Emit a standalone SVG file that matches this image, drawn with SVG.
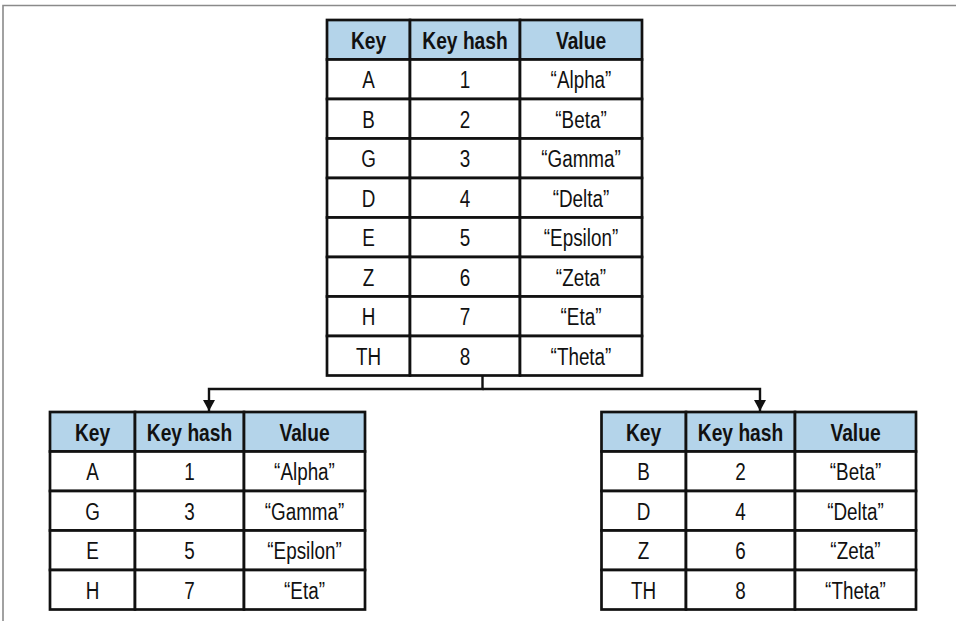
<svg xmlns="http://www.w3.org/2000/svg" width="956" height="621" viewBox="0 0 956 621">
  <defs>
    <style>
      .cell { fill: #ffffff; stroke: #111111; stroke-width: 2.7; }
      .head { fill: #b4d4ea; stroke: #111111; stroke-width: 2.7; }
      .t { font-family: "Liberation Sans", Arial, sans-serif; font-size: 23px; fill: #111111; text-anchor: middle; }
      .h { font-weight: bold; font-size: 24px; }
      .wire { fill: none; stroke: #111111; stroke-width: 2.4; }
      .frame { fill: none; stroke: #8a8a8a; stroke-width: 1.6; }
    </style>
    <marker id="arrow" viewBox="0 0 11 12" refX="11" refY="6" markerWidth="11" markerHeight="12" markerUnits="userSpaceOnUse" orient="auto">
      <path d="M0,0 L11,6 L0,12 Z" fill="#111111"/>
    </marker>
  </defs>

  <rect width="956" height="621" fill="#ffffff"/>
  <!-- page frame -->
  <path class="frame" d="M3,621 V5.5 H956"/>

  <!-- source table: all keys -->
  <g id="table-all">
    <rect class="head" x="327" y="20" width="83" height="39.5"/>
    <rect class="head" x="410" y="20" width="110" height="39.5"/>
    <rect class="head" x="520" y="20" width="122" height="39.5"/>
    <text class="t h" transform="translate(368.5,48.5) scale(0.8,1)">Key</text>
    <text class="t h" transform="translate(465,48.5) scale(0.8,1)">Key hash</text>
    <text class="t h" transform="translate(581,48.5) scale(0.8,1)">Value</text>

    <rect class="cell" x="327" y="59.5" width="83" height="39.5"/>
    <rect class="cell" x="410" y="59.5" width="110" height="39.5"/>
    <rect class="cell" x="520" y="59.5" width="122" height="39.5"/>
    <rect class="cell" x="327" y="99" width="83" height="39.5"/>
    <rect class="cell" x="410" y="99" width="110" height="39.5"/>
    <rect class="cell" x="520" y="99" width="122" height="39.5"/>
    <rect class="cell" x="327" y="138.5" width="83" height="39.5"/>
    <rect class="cell" x="410" y="138.5" width="110" height="39.5"/>
    <rect class="cell" x="520" y="138.5" width="122" height="39.5"/>
    <rect class="cell" x="327" y="178" width="83" height="39.5"/>
    <rect class="cell" x="410" y="178" width="110" height="39.5"/>
    <rect class="cell" x="520" y="178" width="122" height="39.5"/>
    <rect class="cell" x="327" y="217.5" width="83" height="39.5"/>
    <rect class="cell" x="410" y="217.5" width="110" height="39.5"/>
    <rect class="cell" x="520" y="217.5" width="122" height="39.5"/>
    <rect class="cell" x="327" y="257" width="83" height="39.5"/>
    <rect class="cell" x="410" y="257" width="110" height="39.5"/>
    <rect class="cell" x="520" y="257" width="122" height="39.5"/>
    <rect class="cell" x="327" y="296.5" width="83" height="39.5"/>
    <rect class="cell" x="410" y="296.5" width="110" height="39.5"/>
    <rect class="cell" x="520" y="296.5" width="122" height="39.5"/>
    <rect class="cell" x="327" y="336" width="83" height="39.5"/>
    <rect class="cell" x="410" y="336" width="110" height="39.5"/>
    <rect class="cell" x="520" y="336" width="122" height="39.5"/>

    <text class="t" transform="translate(368.5,88) scale(0.82,1)">A</text>
    <text class="t" transform="translate(465,88) scale(0.82,1)">1</text>
    <text class="t" transform="translate(581,88) scale(0.82,1)">“Alpha”</text>
    <text class="t" transform="translate(368.5,127.5) scale(0.82,1)">B</text>
    <text class="t" transform="translate(465,127.5) scale(0.82,1)">2</text>
    <text class="t" transform="translate(581,127.5) scale(0.82,1)">“Beta”</text>
    <text class="t" transform="translate(368.5,167) scale(0.82,1)">G</text>
    <text class="t" transform="translate(465,167) scale(0.82,1)">3</text>
    <text class="t" transform="translate(581,167) scale(0.82,1)">“Gamma”</text>
    <text class="t" transform="translate(368.5,206.5) scale(0.82,1)">D</text>
    <text class="t" transform="translate(465,206.5) scale(0.82,1)">4</text>
    <text class="t" transform="translate(581,206.5) scale(0.82,1)">“Delta”</text>
    <text class="t" transform="translate(368.5,246) scale(0.82,1)">E</text>
    <text class="t" transform="translate(465,246) scale(0.82,1)">5</text>
    <text class="t" transform="translate(581,246) scale(0.82,1)">“Epsilon”</text>
    <text class="t" transform="translate(368.5,285.5) scale(0.82,1)">Z</text>
    <text class="t" transform="translate(465,285.5) scale(0.82,1)">6</text>
    <text class="t" transform="translate(581,285.5) scale(0.82,1)">“Zeta”</text>
    <text class="t" transform="translate(368.5,325) scale(0.82,1)">H</text>
    <text class="t" transform="translate(465,325) scale(0.82,1)">7</text>
    <text class="t" transform="translate(581,325) scale(0.82,1)">“Eta”</text>
    <text class="t" transform="translate(368.5,364.5) scale(0.82,1)">TH</text>
    <text class="t" transform="translate(465,364.5) scale(0.82,1)">8</text>
    <text class="t" transform="translate(581,364.5) scale(0.82,1)">“Theta”</text>
  </g>

  <!-- split connectors -->
  <g id="connectors">
    <path class="wire" d="M482.5,375.5 V389 H209 V411" marker-end="url(#arrow)"/>
    <path class="wire" d="M482.5,389 H760 V411" marker-end="url(#arrow)"/>
  </g>

  <!-- odd hashes -->
  <g id="table-odd">
    <rect class="head" x="50" y="412" width="85" height="39.5"/>
    <rect class="head" x="135" y="412" width="109" height="39.5"/>
    <rect class="head" x="244" y="412" width="121" height="39.5"/>
    <text class="t h" transform="translate(92.5,440.5) scale(0.8,1)">Key</text>
    <text class="t h" transform="translate(189.5,440.5) scale(0.8,1)">Key hash</text>
    <text class="t h" transform="translate(304.5,440.5) scale(0.8,1)">Value</text>

    <rect class="cell" x="50" y="451.5" width="85" height="39.5"/>
    <rect class="cell" x="135" y="451.5" width="109" height="39.5"/>
    <rect class="cell" x="244" y="451.5" width="121" height="39.5"/>
    <rect class="cell" x="50" y="491" width="85" height="39.5"/>
    <rect class="cell" x="135" y="491" width="109" height="39.5"/>
    <rect class="cell" x="244" y="491" width="121" height="39.5"/>
    <rect class="cell" x="50" y="530.5" width="85" height="39.5"/>
    <rect class="cell" x="135" y="530.5" width="109" height="39.5"/>
    <rect class="cell" x="244" y="530.5" width="121" height="39.5"/>
    <rect class="cell" x="50" y="570" width="85" height="39.5"/>
    <rect class="cell" x="135" y="570" width="109" height="39.5"/>
    <rect class="cell" x="244" y="570" width="121" height="39.5"/>

    <text class="t" transform="translate(92.5,480) scale(0.82,1)">A</text>
    <text class="t" transform="translate(189.5,480) scale(0.82,1)">1</text>
    <text class="t" transform="translate(304.5,480) scale(0.82,1)">“Alpha”</text>
    <text class="t" transform="translate(92.5,519.5) scale(0.82,1)">G</text>
    <text class="t" transform="translate(189.5,519.5) scale(0.82,1)">3</text>
    <text class="t" transform="translate(304.5,519.5) scale(0.82,1)">“Gamma”</text>
    <text class="t" transform="translate(92.5,559) scale(0.82,1)">E</text>
    <text class="t" transform="translate(189.5,559) scale(0.82,1)">5</text>
    <text class="t" transform="translate(304.5,559) scale(0.82,1)">“Epsilon”</text>
    <text class="t" transform="translate(92.5,598.5) scale(0.82,1)">H</text>
    <text class="t" transform="translate(189.5,598.5) scale(0.82,1)">7</text>
    <text class="t" transform="translate(304.5,598.5) scale(0.82,1)">“Eta”</text>
  </g>

  <!-- even hashes -->
  <g id="table-even">
    <rect class="head" x="601.5" y="412" width="84.5" height="39.5"/>
    <rect class="head" x="686" y="412" width="109" height="39.5"/>
    <rect class="head" x="795" y="412" width="121" height="39.5"/>
    <text class="t h" transform="translate(643.5,440.5) scale(0.8,1)">Key</text>
    <text class="t h" transform="translate(740.5,440.5) scale(0.8,1)">Key hash</text>
    <text class="t h" transform="translate(855.5,440.5) scale(0.8,1)">Value</text>

    <rect class="cell" x="601.5" y="451.5" width="84.5" height="39.5"/>
    <rect class="cell" x="686" y="451.5" width="109" height="39.5"/>
    <rect class="cell" x="795" y="451.5" width="121" height="39.5"/>
    <rect class="cell" x="601.5" y="491" width="84.5" height="39.5"/>
    <rect class="cell" x="686" y="491" width="109" height="39.5"/>
    <rect class="cell" x="795" y="491" width="121" height="39.5"/>
    <rect class="cell" x="601.5" y="530.5" width="84.5" height="39.5"/>
    <rect class="cell" x="686" y="530.5" width="109" height="39.5"/>
    <rect class="cell" x="795" y="530.5" width="121" height="39.5"/>
    <rect class="cell" x="601.5" y="570" width="84.5" height="39.5"/>
    <rect class="cell" x="686" y="570" width="109" height="39.5"/>
    <rect class="cell" x="795" y="570" width="121" height="39.5"/>

    <text class="t" transform="translate(643.5,480) scale(0.82,1)">B</text>
    <text class="t" transform="translate(740.5,480) scale(0.82,1)">2</text>
    <text class="t" transform="translate(855.5,480) scale(0.82,1)">“Beta”</text>
    <text class="t" transform="translate(643.5,519.5) scale(0.82,1)">D</text>
    <text class="t" transform="translate(740.5,519.5) scale(0.82,1)">4</text>
    <text class="t" transform="translate(855.5,519.5) scale(0.82,1)">“Delta”</text>
    <text class="t" transform="translate(643.5,559) scale(0.82,1)">Z</text>
    <text class="t" transform="translate(740.5,559) scale(0.82,1)">6</text>
    <text class="t" transform="translate(855.5,559) scale(0.82,1)">“Zeta”</text>
    <text class="t" transform="translate(643.5,598.5) scale(0.82,1)">TH</text>
    <text class="t" transform="translate(740.5,598.5) scale(0.82,1)">8</text>
    <text class="t" transform="translate(855.5,598.5) scale(0.82,1)">“Theta”</text>
  </g>
</svg>
